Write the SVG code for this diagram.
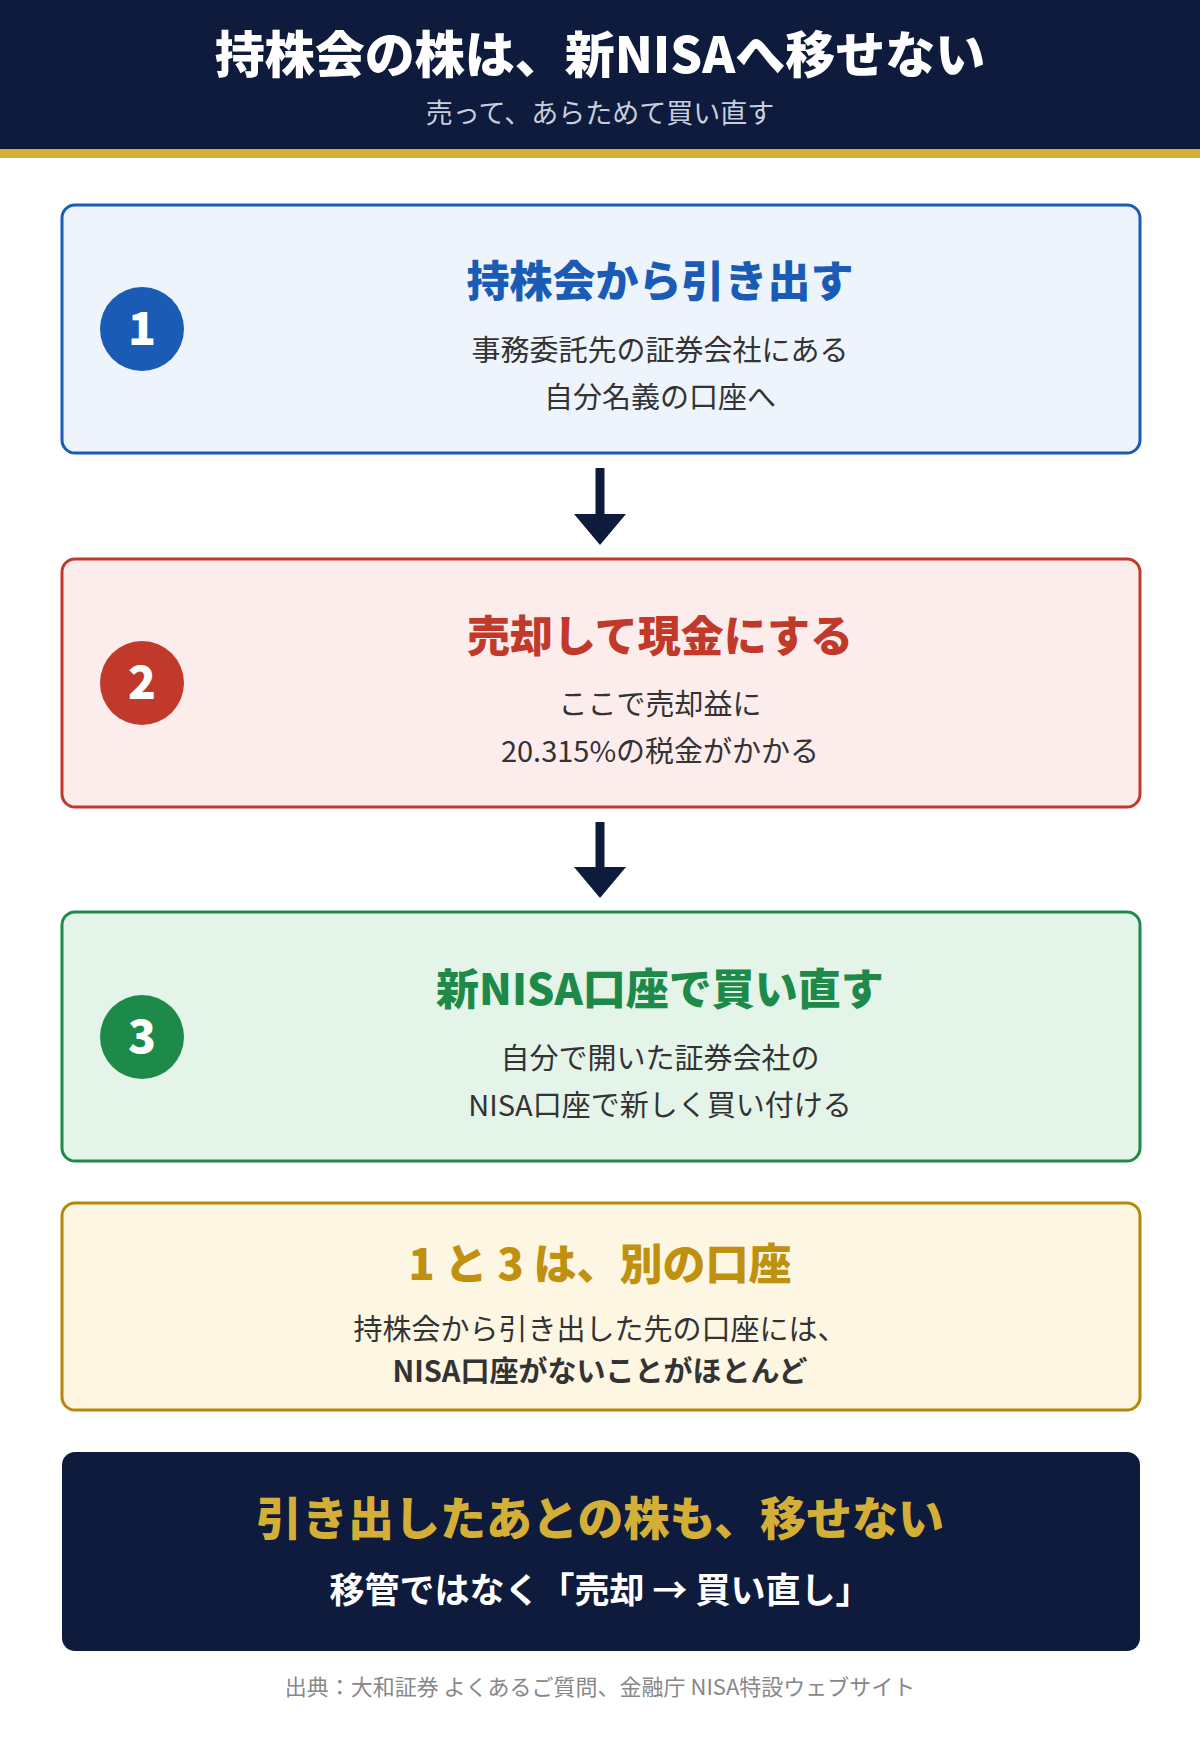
<svg xmlns="http://www.w3.org/2000/svg" width="1200" height="1756" viewBox="0 0 1200 1756">
<style>
text{font-family:"Noto Sans CJK JP","Noto Sans",sans-serif;text-anchor:middle}
.t{font-size:43px;font-weight:900}
.b{font-size:29px;fill:#333}
.n{font-size:46px;font-weight:900;fill:#fff}
</style>
<defs><marker id="ah" markerWidth="6" markerHeight="4" refX="0" refY="2" orient="auto" markerUnits="strokeWidth"><path d="M0,0L6,2L0,4z" fill="#0f1b3d"/></marker></defs>
<rect width="1200" height="1756" fill="#fff"/>
<g id="header">
<rect width="1200" height="149" fill="#0f1b3d"/>
<rect y="149" width="1200" height="9" fill="#d4af37"/>
<text x="600" y="73" style="font-size:50px;font-weight:900;fill:#fff">持株会の株は、新NISAへ移せない</text>
<text x="600" y="123" style="font-size:27px;fill:#c8cfdc">売って、あらためて買い直す</text>
</g>
<g id="connectors">
<line x1="600" y1="468" x2="600" y2="514" stroke="#0f1b3d" stroke-width="9"/>
<path d="M574,514L626,514L600,545z" fill="#0f1b3d"/>
<line x1="600" y1="822" x2="600" y2="867" stroke="#0f1b3d" stroke-width="9"/>
<path d="M574,867L626,867L600,898z" fill="#0f1b3d"/>
</g>
<g id="step1">
<rect x="62" y="205" width="1078" height="248" rx="13" fill="#edf4fc" stroke="#1a5bb5" stroke-width="3"/>
<circle cx="142" cy="329" r="42" fill="#1a5bb5"/>
<text x="142" y="345" class="n">1</text>
<text x="660" y="297" class="t" fill="#1a5bb5">持株会から引き出す</text>
<text x="660" y="361" class="b">事務委託先の証券会社にある</text>
<text x="660" y="408" class="b">自分名義の口座へ</text>
</g>
<g id="step2">
<rect x="62" y="559" width="1078" height="248" rx="13" fill="#fdecec" stroke="#c0392b" stroke-width="3"/>
<circle cx="142" cy="683" r="42" fill="#c0392b"/>
<text x="142" y="699" class="n">2</text>
<text x="660" y="652" class="t" fill="#c0392b">売却して現金にする</text>
<text x="660" y="715" class="b">ここで売却益に</text>
<text x="660" y="762" class="b">20.315%の税金がかかる</text>
</g>
<g id="step3">
<rect x="62" y="912" width="1078" height="249" rx="13" fill="#e5f4e9" stroke="#1e8a4a" stroke-width="3"/>
<circle cx="142" cy="1037" r="42" fill="#1e8a4a"/>
<text x="142" y="1053" class="n">3</text>
<text x="660" y="1005" class="t" fill="#1e8a4a">新NISA口座で買い直す</text>
<text x="660" y="1069" class="b">自分で開いた証券会社の</text>
<text x="660" y="1116" class="b">NISA口座で新しく買い付ける</text>
</g>
<g id="note">
<rect x="62" y="1203" width="1078" height="207" rx="13" fill="#fdf6e3" stroke="#b8860b" stroke-width="3"/>
<text x="600" y="1280" class="t" fill="#c0900f">1 と 3 は、別の口座</text>
<text x="600" y="1340" class="b">持株会から引き出した先の口座には、</text>
<text x="600" y="1382" class="b" style="font-weight:700">NISA口座がないことがほとんど</text>
</g>
<g id="summary">
<rect x="62" y="1452" width="1078" height="199" rx="13" fill="#0f1b3d"/>
<text x="600" y="1535" style="font-size:46px;font-weight:900;fill:#d4af37">引き出したあとの株も、移せない</text>
<text x="600" y="1603" style="font-size:35px;font-weight:700;fill:#fff">移管ではなく「売却 → 買い直し」</text>
</g>
<text x="600" y="1695" style="font-size:22px;fill:#888">出典：大和証券 よくあるご質問、金融庁 NISA特設ウェブサイト</text>
</svg>
